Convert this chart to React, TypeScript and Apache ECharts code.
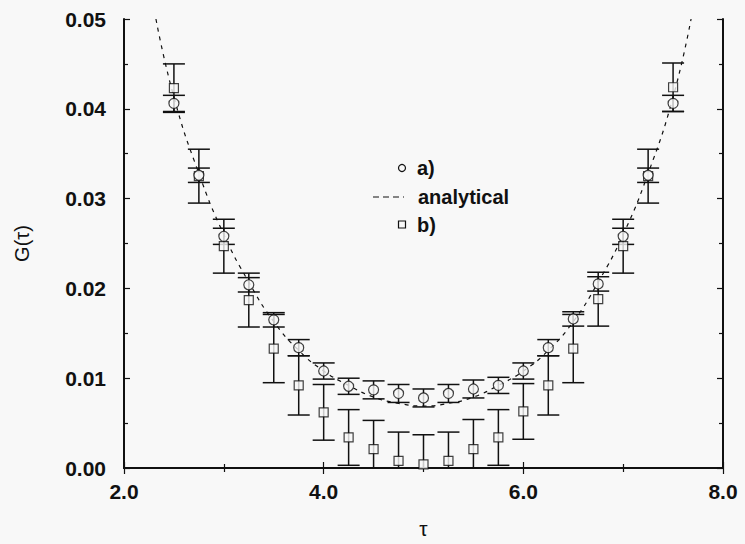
import React, { useEffect, useRef } from "react";
import * as echarts from "echarts";

// ---- data ----
const tau = [2.5, 2.75, 3.0, 3.25, 3.5, 3.75, 4.0, 4.25, 4.5, 4.75, 5.0, 5.25, 5.5, 5.75, 6.0, 6.25, 6.5, 6.75, 7.0, 7.25, 7.5];

const aValues = [0.0406, 0.0326, 0.0258, 0.0204, 0.0165, 0.0134, 0.0108, 0.0091, 0.0087, 0.0083, 0.0078, 0.0083, 0.0088, 0.0092, 0.0108, 0.0134, 0.0166, 0.0205, 0.0258, 0.0326, 0.0406];
const aErrors = [0.0009, 0.0008, 0.0009, 0.0008, 0.0008, 0.0009, 0.0009, 0.0009, 0.001, 0.001, 0.001, 0.001, 0.001, 0.0009, 0.0009, 0.0009, 0.0008, 0.0008, 0.0009, 0.0008, 0.0009];

const bValues = [0.0423, 0.0325, 0.0247, 0.0187, 0.0133, 0.0092, 0.0062, 0.0034, 0.0021, 0.0008, 0.0004, 0.0008, 0.0021, 0.0034, 0.0063, 0.0092, 0.0133, 0.0188, 0.0247, 0.0325, 0.0424];
const bErrors = [0.0027, 0.003, 0.003, 0.003, 0.0038, 0.0033, 0.0031, 0.0031, 0.0032, 0.0032, 0.0033, 0.0032, 0.0033, 0.0031, 0.0031, 0.0033, 0.0038, 0.003, 0.003, 0.003, 0.0027];

const curveTau = [2.32, 2.5, 2.75, 3.0, 3.25, 3.5, 3.75, 4.0, 4.25, 4.5, 4.75, 5.0, 5.25, 5.5, 5.75, 6.0, 6.25, 6.5, 6.75, 7.0, 7.25, 7.5, 7.68];
const curveG = [0.05, 0.0413, 0.0328, 0.026, 0.0207, 0.0163, 0.0131, 0.0108, 0.0092, 0.0079, 0.0072, 0.0069, 0.0072, 0.0079, 0.0092, 0.0108, 0.0131, 0.0163, 0.0207, 0.026, 0.0328, 0.0413, 0.05];

const xTickLabels = ["2.0", "4.0", "6.0", "8.0"];
const yTickLabels = ["0.00", "0.01", "0.02", "0.03", "0.04", "0.05"];

const BG = "#f8f8f8";
const INK = "#111111";
const FONT = "Liberation Sans, Arial, sans-serif";

function errorBarSeries(name: string, values: number[], errors: number[], z: number) {
  return {
    type: "custom",
    name,
    clip: true,
    z,
    xAxisIndex: 0,
    yAxisIndex: 0,
    data: tau.map((t, i) => [t, values[i] - errors[i], values[i] + errors[i]]),
    encode: { x: 0, y: [1, 2] },
    renderItem: (_params: any, api: any) => {
      const x = api.value(0);
      const lo = api.coord([x, api.value(1)]);
      const hi = api.coord([x, api.value(2)]);
      const hw = 11;
      const style = { stroke: INK, lineWidth: 1.5, fill: "none" };
      return {
        type: "group",
        children: [
          { type: "line", shape: { x1: lo[0], y1: lo[1], x2: hi[0], y2: hi[1] }, style },
          { type: "line", shape: { x1: lo[0] - hw, y1: lo[1], x2: lo[0] + hw, y2: lo[1] }, style },
          { type: "line", shape: { x1: hi[0] - hw, y1: hi[1], x2: hi[0] + hw, y2: hi[1] }, style },
        ],
      };
    },
  };
}

export default function App() {
  const ref = useRef<HTMLDivElement>(null);

  useEffect(() => {
    if (!ref.current) return;
    const chart = echarts.init(ref.current, null, { renderer: "svg" });

    const axisLine = { show: true, lineStyle: { color: INK, width: 2 } };
    const tickStyle = { color: INK, width: 1.2 };

    const option: any = {
      animation: false,
      backgroundColor: BG,
      grid: { left: 124, right: 22, top: 19, bottom: 67, containLabel: false },
      xAxis: [
        {
          type: "value",
          position: "bottom",
          min: 2,
          max: 8,
          interval: 2,
          name: "τ",
          nameLocation: "middle",
          nameGap: 50,
          nameTextStyle: { fontFamily: FONT, fontSize: 21, color: INK },
          axisLine,
          axisTick: { show: true, inside: true, length: 6, lineStyle: tickStyle },
          minorTick: { show: true, splitNumber: 2, length: 4, lineStyle: tickStyle },
          splitLine: { show: false },
          axisLabel: {
            margin: 13,
            fontFamily: FONT,
            fontSize: 21,
            fontWeight: "bold",
            color: INK,
            formatter: (v: number) => xTickLabels[Math.round((v - 2) / 2)] ?? "",
          },
        },
        {
          type: "value",
          position: "top",
          min: 2,
          max: 8,
          interval: 2,
          axisLine,
          axisTick: { show: true, inside: true, length: 6, lineStyle: tickStyle },
          minorTick: { show: true, splitNumber: 2, length: 4, lineStyle: tickStyle },
          splitLine: { show: false },
          axisLabel: { show: false },
        },
      ],
      yAxis: [
        {
          type: "value",
          position: "left",
          min: 0,
          max: 0.05,
          interval: 0.01,
          name: "G(τ)",
          nameLocation: "middle",
          nameGap: 92,
          nameTextStyle: { fontFamily: FONT, fontSize: 20, color: INK },
          axisLine,
          axisTick: { show: true, inside: true, length: 6, lineStyle: tickStyle },
          minorTick: { show: true, splitNumber: 2, length: 4, lineStyle: tickStyle },
          splitLine: { show: false },
          axisLabel: {
            margin: 18,
            fontFamily: FONT,
            fontSize: 21,
            fontWeight: "bold",
            color: INK,
            formatter: (v: number) => yTickLabels[Math.round(v / 0.01)] ?? "",
          },
        },
        {
          type: "value",
          position: "right",
          min: 0,
          max: 0.05,
          interval: 0.01,
          axisLine,
          axisTick: { show: true, inside: true, length: 6, lineStyle: tickStyle },
          minorTick: { show: true, splitNumber: 2, length: 4, lineStyle: tickStyle },
          splitLine: { show: false },
          axisLabel: { show: false },
        },
      ],
      series: [
        errorBarSeries("b) errors", bValues, bErrors, 2),
        errorBarSeries("a) errors", aValues, aErrors, 3),
        {
          type: "line",
          name: "analytical",
          xAxisIndex: 0,
          yAxisIndex: 0,
          smooth: true,
          showSymbol: false,
          symbol: "none",
          clip: true,
          z: 4,
          lineStyle: { color: INK, width: 1.2, type: [4, 5] },
          data: curveTau.map((t, i) => [t, curveG[i]]),
        },
        {
          type: "scatter",
          name: "b)",
          xAxisIndex: 0,
          yAxisIndex: 0,
          symbol: "rect",
          symbolSize: 9,
          z: 5,
          itemStyle: { color: BG, borderColor: INK, borderWidth: 1.2 },
          data: tau.map((t, i) => [t, bValues[i]]),
        },
        {
          type: "scatter",
          name: "a)",
          xAxisIndex: 0,
          yAxisIndex: 0,
          symbol: "circle",
          symbolSize: 10,
          z: 6,
          itemStyle: { color: BG, borderColor: INK, borderWidth: 1.2 },
          data: tau.map((t, i) => [t, aValues[i]]),
        },
      ],
      graphic: [
        { type: "circle", shape: { cx: 402, cy: 168, r: 3.5 }, style: { fill: BG, stroke: INK, lineWidth: 1.2 }, z: 10 },
        { type: "text", x: 417, y: 168, style: { text: "a)", fontFamily: FONT, fontSize: 20, fontWeight: "bold", fill: INK, verticalAlign: "middle" }, z: 10 },
        { type: "line", shape: { x1: 373, y1: 197, x2: 404, y2: 197 }, style: { stroke: INK, lineWidth: 1.2, lineDash: [6, 4] }, z: 10 },
        { type: "text", x: 418, y: 197, style: { text: "analytical", fontFamily: FONT, fontSize: 20, fontWeight: "bold", fill: INK, verticalAlign: "middle" }, z: 10 },
        { type: "rect", shape: { x: 398.5, y: 221, width: 7, height: 7 }, style: { fill: BG, stroke: INK, lineWidth: 1.2 }, z: 10 },
        { type: "text", x: 417, y: 225, style: { text: "b)", fontFamily: FONT, fontSize: 20, fontWeight: "bold", fill: INK, verticalAlign: "middle" }, z: 10 },
      ],
    };

    chart.setOption(option);
    return () => chart.dispose();
  }, []);

  return (
    <div
      ref={ref}
      style={{ position: "fixed", left: 0, top: 0, width: 745, height: 544, background: BG }}
    />
  );
}
